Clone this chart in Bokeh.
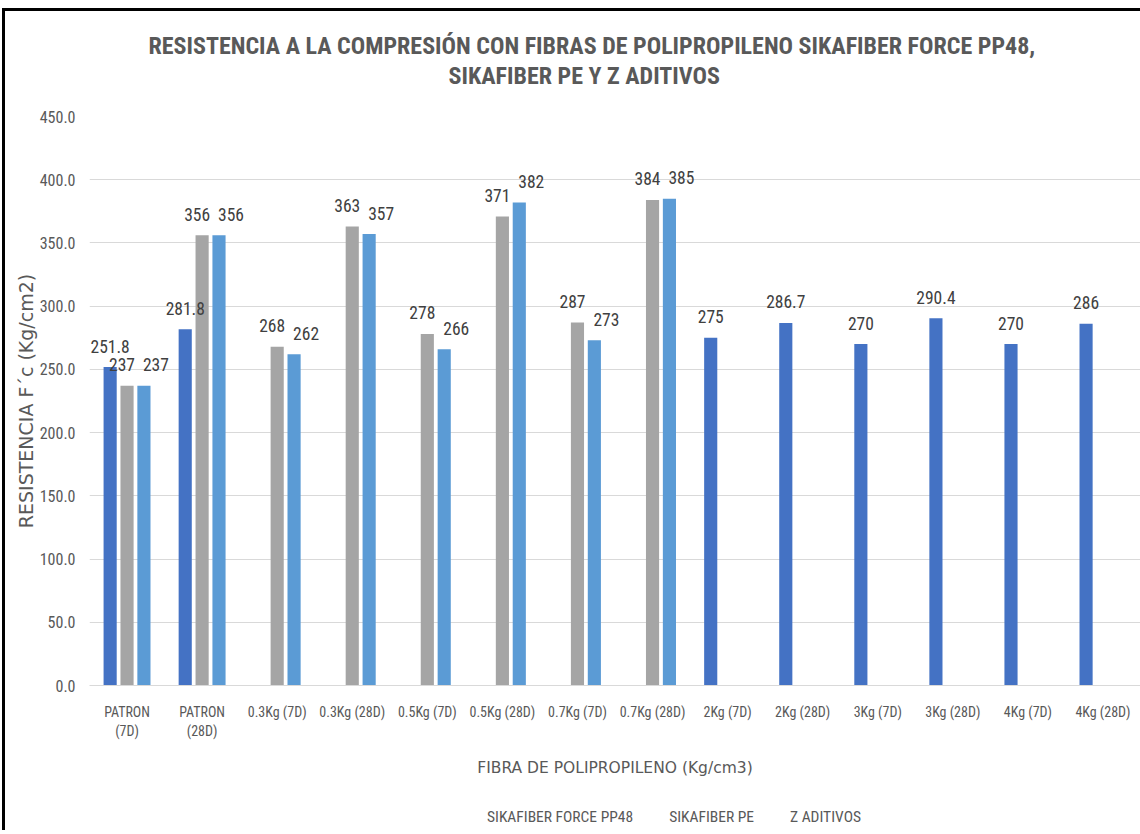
from bokeh.plotting import figure
from bokeh.layouts import column
from bokeh.models import ColumnDataSource, FactorRange, Legend, LegendItem, Title, Range1d, NumeralTickFormatter, FixedTicker
from bokeh.transform import dodge
from bokeh.core.properties import value
from bokeh.embed import file_html
from bokeh.resources import INLINE

categories = ["PATRON\n(7D)", "PATRON\n(28D)", "0.3Kg (7D)", "0.3Kg (28D)", "0.5Kg (7D)",
              "0.5Kg (28D)", "0.7Kg (7D)", "0.7Kg (28D)", "2Kg (7D)", "2Kg (28D)",
              "3Kg (7D)", "3Kg (28D)", "4Kg (7D)", "4Kg (28D)"]
force_pp48 = [251.8, 281.8, None, None, None, None, None, None, 275, 286.7, 270, 290.4, 270, 286]
sikafiber_pe = [237, 356, 268, 363, 278, 371, 287, 384, None, None, None, None, None, None]
z_aditivos = [237, 356, 262, 357, 266, 382, 273, 385, None, None, None, None, None, None]
series_names = ["SIKAFIBER FORCE PP48", "SIKAFIBER PE", "Z ADITIVOS"]
y_ticks = [0, 50, 100, 150, 200, 250, 300, 350, 400, 450]
title_lines = ["RESISTENCIA A LA COMPRESIÓN CON FIBRAS DE POLIPROPILENO SIKAFIBER FORCE PP48,",
               "SIKAFIBER PE Y Z ADITIVOS"]
x_title = "FIBRA DE POLIPROPILENO (Kg/cm3)"
y_title = "RESISTENCIA F´c (Kg/cm2)"

colors = ["#4472C4", "#A5A5A5", "#5B9BD5"]
offsets = [-0.225, 0.0, 0.225]
NARROW = "'Roboto Condensed', 'Liberation Sans Narrow', sans-serif"

p = figure(x_range=FactorRange(*categories, range_padding=0), y_range=Range1d(0, 450),
           width=None, height=None, frame_width=1051, frame_height=569,
           output_backend="svg", toolbar_location=None,
           min_border_left=84, min_border_right=0, min_border_top=105, min_border_bottom=120)

p.outline_line_color = None
p.background_fill_color = "white"
p.border_fill_color = "white"

# spacer between the plot and the two title lines
p.add_layout(Title(text=" ", text_font_size="10px", standoff=14), "above")
# line 2 is added first (closest to the plot), then line 1 above it
for line, off in zip(reversed(title_lines), [359, 59]):
    t = Title(text=line, align="left", offset=off, text_font=NARROW, text_font_size="24px",
              text_font_style="bold", text_color="#595959", standoff=0)
    p.add_layout(t, "above")

p.xgrid.grid_line_color = None
p.ygrid.grid_line_color = "#D9D9D9"
p.ygrid.ticker = FixedTicker(ticks=y_ticks)

p.yaxis.ticker = FixedTicker(ticks=y_ticks)
p.yaxis.formatter = NumeralTickFormatter(format="0.0")
p.yaxis.axis_line_color = None
p.yaxis.major_tick_line_color = None
p.yaxis.minor_tick_line_color = None
p.yaxis.major_tick_out = 0
p.yaxis.major_tick_in = 0
p.yaxis.major_label_standoff = 14
p.yaxis.major_label_text_font = NARROW
p.yaxis.major_label_text_font_size = "16px"
p.yaxis.major_label_text_color = "#595959"
p.yaxis.axis_label = y_title
p.yaxis.axis_label_text_font = "DejaVu Sans"
p.yaxis.axis_label_text_font_size = "19px"
p.yaxis.axis_label_text_font_style = "normal"
p.yaxis.axis_label_text_color = "#595959"
p.yaxis.axis_label_standoff = 0

p.xaxis.axis_line_color = "#D9D9D9"
p.xaxis.major_tick_line_color = None
p.xaxis.major_tick_out = 0
p.xaxis.major_tick_in = 0
p.xaxis.major_label_standoff = 18
p.xaxis.major_label_text_font = NARROW
p.xaxis.major_label_text_font_size = "14px"
p.xaxis.major_label_text_color = "#595959"
p.xaxis.axis_label = x_title
p.xaxis.axis_label_text_font = "DejaVu Sans"
p.xaxis.axis_label_text_font_size = "15.5px"
p.xaxis.axis_label_text_font_style = "normal"
p.xaxis.axis_label_text_color = "#595959"
p.xaxis.axis_label_standoff = 17

series = [force_pp48, sikafiber_pe, z_aditivos]
for k, (vals, col, off) in enumerate(zip(series, colors, offsets)):
    cats = [c for c, v in zip(categories, vals) if v is not None]
    ys = [v for v in vals if v is not None]
    p.vbar(x=dodge("cat", off, range=p.x_range), top="y", width=0.175, bottom=0,
           source=ColumnDataSource(dict(cat=cats, y=ys)), fill_color=col, line_color=None)

# data labels (nudged apart when neighbouring labels collide)
for k, (vals, off) in enumerate(zip(series, offsets)):
    cats, ys, txt, dx = [], [], [], []
    for i, v in enumerate(vals):
        if v is None:
            continue
        shift = 0
        if k in (1, 2):
            other = series[2 if k == 1 else 1][i]
            if other is not None and abs(other - v) < 15:
                shift = -5 if k == 1 else 12
        cats.append(categories[i]); ys.append(v); txt.append(f"{v:g}"); dx.append(shift)
    p.text(x=dodge("cat", off, range=p.x_range), y="y", text="txt", x_offset="dx",
           source=ColumnDataSource(dict(cat=cats, y=ys, txt=txt, dx=dx)),
           text_font=value(NARROW), text_font_size="17.5px", text_color="#404040",
           text_align="center", text_baseline="middle", y_offset=-21)

# legend strip below the chart (its own small figure so nothing is clipped)
lf = figure(width=1135, height=25, x_range=Range1d(0, 1), y_range=Range1d(0, 1),
            output_backend="svg", toolbar_location=None, x_axis_type=None, y_axis_type=None,
            min_border=0, min_border_left=0, min_border_right=0, min_border_top=0, min_border_bottom=0)
lf.outline_line_color = None
lf.xgrid.visible = False
lf.ygrid.visible = False
lf.background_fill_color = "white"
lf.border_fill_color = "white"
legend_renderers = [lf.vbar(x=[], top=[], width=0.1, fill_color=c, line_color=None) for c in colors]

legend = Legend(items=[LegendItem(label=n, renderers=[r]) for n, r in zip(series_names, legend_renderers)],
                orientation="horizontal", location=(386, 4))
legend.glyph_width = 9
legend.glyph_height = 9
legend.label_standoff = 3
legend.spacing = 24
legend.label_text_font = NARROW
legend.label_text_font_size = "15.5px"
legend.label_text_color = "#595959"
legend.border_line_color = None
legend.background_fill_alpha = 0
legend.margin = 0
legend.padding = 0
lf.add_layout(legend, "center")

layout = column(p, lf, spacing=0)
layout.styles = {"margin-top": "8px", "margin-left": "2px",
                 "border-top": "3px solid black", "border-left": "3px solid black"}

open("out.html", "w").write(file_html(layout, INLINE))
